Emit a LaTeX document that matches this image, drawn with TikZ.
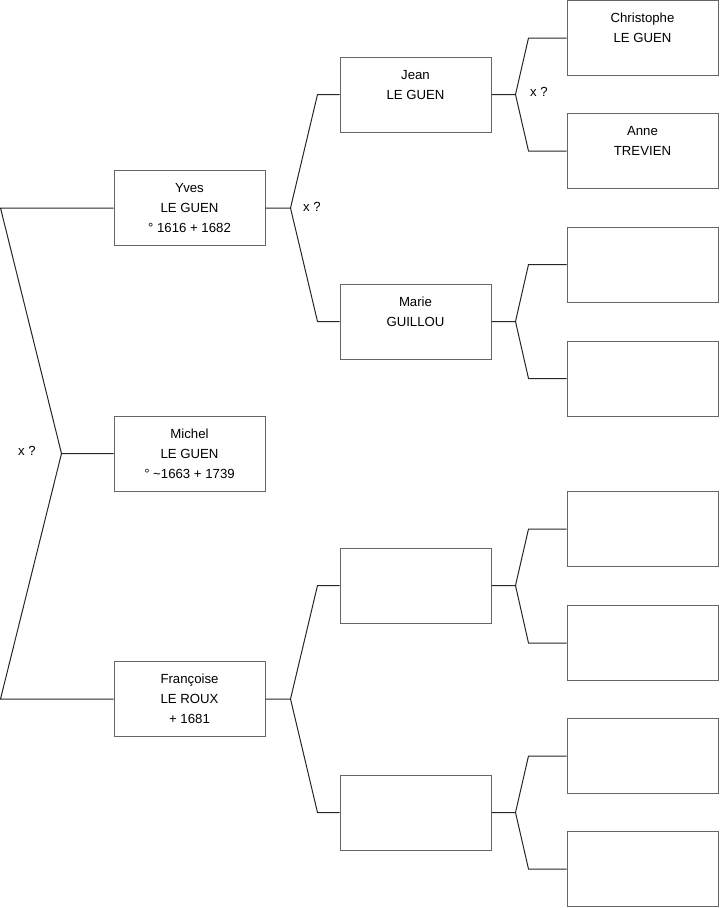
\documentclass[tikz,border=0pt]{standalone}
\usepackage{fontspec}
\setmainfont{Liberation Sans}
\usepackage{tikz}
\usetikzlibrary{calc}

\tikzset{
  person/.style={draw=black!60,line width=0.75pt,fill=white,align=center,
    minimum width=113.25pt,minimum height=56.25pt,inner sep=0pt,
    font=\fontsize{9.9}{15}\selectfont},
  link/.style={draw=black!85,line width=0.75pt},
  unionlbl/.style={font=\fontsize{9.9}{11}\selectfont,inner sep=0pt}
}

\begin{document}
\begin{tikzpicture}[x=0.75pt,y=-0.75pt]
        \useasboundingbox (0,0) rectangle (719,908);
        % generation 1 and 2
        \node[person] (yves) at (189.5,208) {Yves\\LE GUEN\\° 1616 + 1682};
        \node[person] (michel) at (189.5,453.5) {Michel\\LE GUEN\\° \textasciitilde1663 + 1739};
        \node[person] (fran) at (189.5,699) {Françoise\\LE ROUX\\+ 1681};
        \node[person] (jean) at (415.5,94.5) {Jean\\LE GUEN\\\mbox{}};
        \node[person] (marie) at (415.5,321.5) {Marie\\GUILLOU\\\mbox{}};
        \node[person] (gfa) at (415.5,585.5) {};
        \node[person] (gfb) at (415.5,812.5) {};
        % generation 3
        \node[person] (chris) at (642.5,38) {Christophe\\LE GUEN\\\mbox{}};
        \node[person] (anne) at (642.5,151) {Anne\\TREVIEN\\\mbox{}};
        \foreach \n/\y in {c/264.5,d/378.5,e/529,f/643,g/756,h/869}{
          \node[person] (gg\n) at (642.5,\y) {};
        }
        % forks
        \draw[link] (michel.west) -- ++(-52,0) coordinate (fm)
          -- ($(yves.west)+(-113,0)$) -- (yves.west);
        \draw[link] (fm) -- ($(fran.west)+(-113,0)$) -- (fran.west);
        \foreach \p/\a/\b in {yves/jean/marie,fran/gfa/gfb}{
          \draw[link] (\p.east) -- ++(25,0) coordinate (fk)
            -- ($(\a.west)+(-22,0)$) -- (\a.west);
          \draw[link] (fk) -- ($(\b.west)+(-22,0)$) -- (\b.west);
        }
        \foreach \p/\a/\b in {jean/chris/anne,marie/ggc/ggd,gfa/gge/ggf,gfb/ggg/ggh}{
          \draw[link] (\p.east) -- ++(24,0) coordinate (fk)
            -- ($(\a.west)+(-38,0)$) -- (\a.west);
          \draw[link] (fk) -- ($(\b.west)+(-38,0)$) -- (\b.west);
        }
        \node[unionlbl] (xm) at (27,451) {x ?};
        \node[unionlbl] (xy) at (312,207) {x ?};
        \node[unionlbl] (xj) at (539,92) {x ?};
      \end{tikzpicture}
\end{document}
